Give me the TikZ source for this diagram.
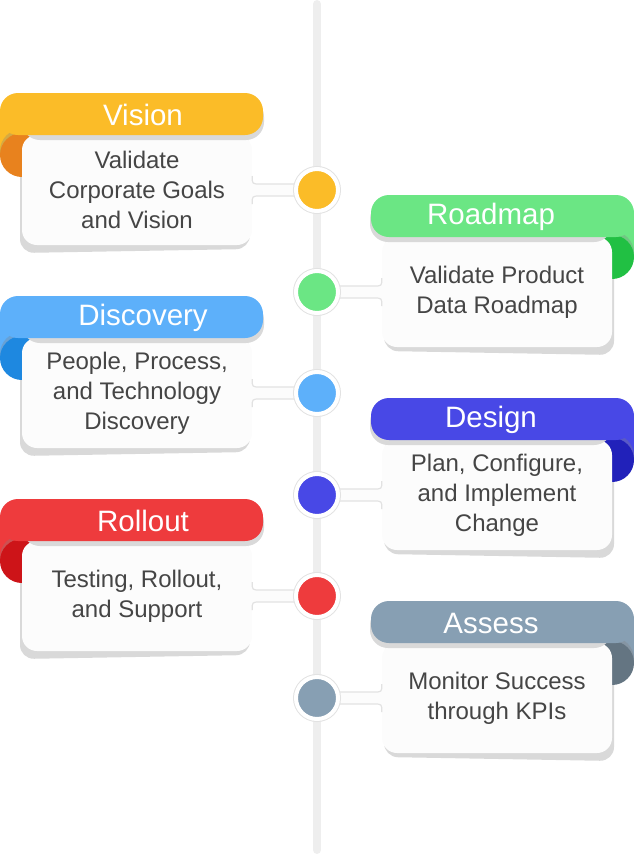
\documentclass[tikz,border=0pt]{standalone}
\usepackage{fontspec}
\setmainfont{Liberation Sans}
\usetikzlibrary{calc}
\definecolor{vis}{HTML}{FBBC28}
\definecolor{visd}{HTML}{E8821E}
\definecolor{road}{HTML}{6BE684}
\definecolor{roadd}{HTML}{21C043}
\definecolor{disc}{HTML}{5DB0FA}
\definecolor{discd}{HTML}{1E88E0}
\definecolor{des}{HTML}{4848E6}
\definecolor{desd}{HTML}{2121BA}
\definecolor{roll}{HTML}{EE3B3D}
\definecolor{rolld}{HTML}{CD1418}
\definecolor{ass}{HTML}{879FB3}
\definecolor{assd}{HTML}{647582}
\definecolor{cardbg}{HTML}{FCFCFC}
\definecolor{cardtxt}{HTML}{454545}
\definecolor{shadowgrey}{HTML}{D9D9D9}
\definecolor{linegrey}{HTML}{EEEEEE}
\definecolor{ringgrey}{HTML}{E2E2E2}
\begin{document}
\begin{tikzpicture}[x=1pt, y=-1pt,
    flip/.style = {shift={(317,0)}, xscale=#1, shift={(-317,0)}},
    card/.style = {fill=cardbg, minimum width=230pt, minimum height=110pt, rounded corners=15pt,
      inner sep=0pt, align=center, text=cardtxt, font=\fontsize{24}{30}\selectfont},
    head/.style = {text=white, font=\fontsize{29.5}{32}\selectfont},
    milestone/.style = {circle, fill=#1, draw=white, line width=4pt, minimum size=42pt,
      inner sep=0pt, preaction={draw=ringgrey, line width=6pt}},
    neck/.style = {draw=ringgrey, line width=1.2pt}]
  \useasboundingbox (0,0) rectangle (634,854);
  \coordinate (top) at (317,4);
  \coordinate (bot) at (317,850);
  \draw[linegrey, line width=8pt, line cap=round] (top) -- (bot);
  %
  \foreach \n/\c/\d/\head/\body in {
      1/vis/visd/Vision/{Validate\\Corporate Goals\\and Vision},
      2/road/roadd/Roadmap/{Validate Product\\Data Roadmap},
      3/disc/discd/Discovery/{People, Process,\\and Technology\\Discovery},
      4/des/desd/Design/{Plan, Configure,\\and Implement\\Change},
      5/roll/rolld/Rollout/{Testing, Rollout,\\and Support},
      6/ass/assd/Assess/{Monitor Success\\through KPIs}}{
    \pgfmathtruncatemacro\T{93.5+(\n-1)*101.5}
    \pgfmathtruncatemacro\s{mod(\n,2)==1 ? 1 : -1}
    \ifnum\s=1 \def\a{east}\else\def\a{west}\fi
    % shadow and fold
    \begin{scope}[flip=\s]
      \fill[shadowgrey, rounded corners=14pt] (20,\T+40) -- (20,\T+160) -- (250,\T+156) -- (250,\T+40) -- cycle;
      \fill[\c] (0,\T+20) rectangle (22,\T+62);
      \fill[\c!70!gray] (22,\T+58) circle[radius=22pt];
      \fill[\d] (22,\T+62) circle[radius=22pt];
    \end{scope}
    \node[card] (c\n) at ({317-\s*180},\T+97) {\body};
    \coordinate (e\n) at (c\n.\a);
    \coordinate (s\n) at (c\n.\a -| top);
    % neck to the spine
    \fill[cardbg] ($(e\n)+(0,-14)$) .. controls ($(e\n)+(0,-6)$) .. ($(e\n)+(\s*8,-6)$) -- ($(s\n)+(0,-6)$)
      -- ($(s\n)+(0,6)$) -- ($(e\n)+(\s*8,6)$) .. controls ($(e\n)+(0,6)$) .. ($(e\n)+(0,14)$) -- cycle;
    \draw[neck] ($(e\n)+(0,-14)$) .. controls ($(e\n)+(0,-6)$) .. ($(e\n)+(\s*8,-6)$) -- ($(s\n)+(0,-6)$)
      ($(e\n)+(0,14)$) .. controls ($(e\n)+(0,6)$) .. ($(e\n)+(\s*8,6)$) -- ($(s\n)+(0,6)$);
    % header
    \begin{scope}[flip=\s]
      \fill[shadowgrey, rounded corners=18pt] (22,\T+6) rectangle (264,\T+47);
      \fill[\c, rounded corners=18pt] (0,\T) rectangle (263,\T+42);
    \end{scope}
    \node[head] (h\n) at ({317-\s*174},\T+22) {\head};
    \node[milestone=\c] (d\n) at (s\n) {};
  }
\end{tikzpicture}
\end{document}
